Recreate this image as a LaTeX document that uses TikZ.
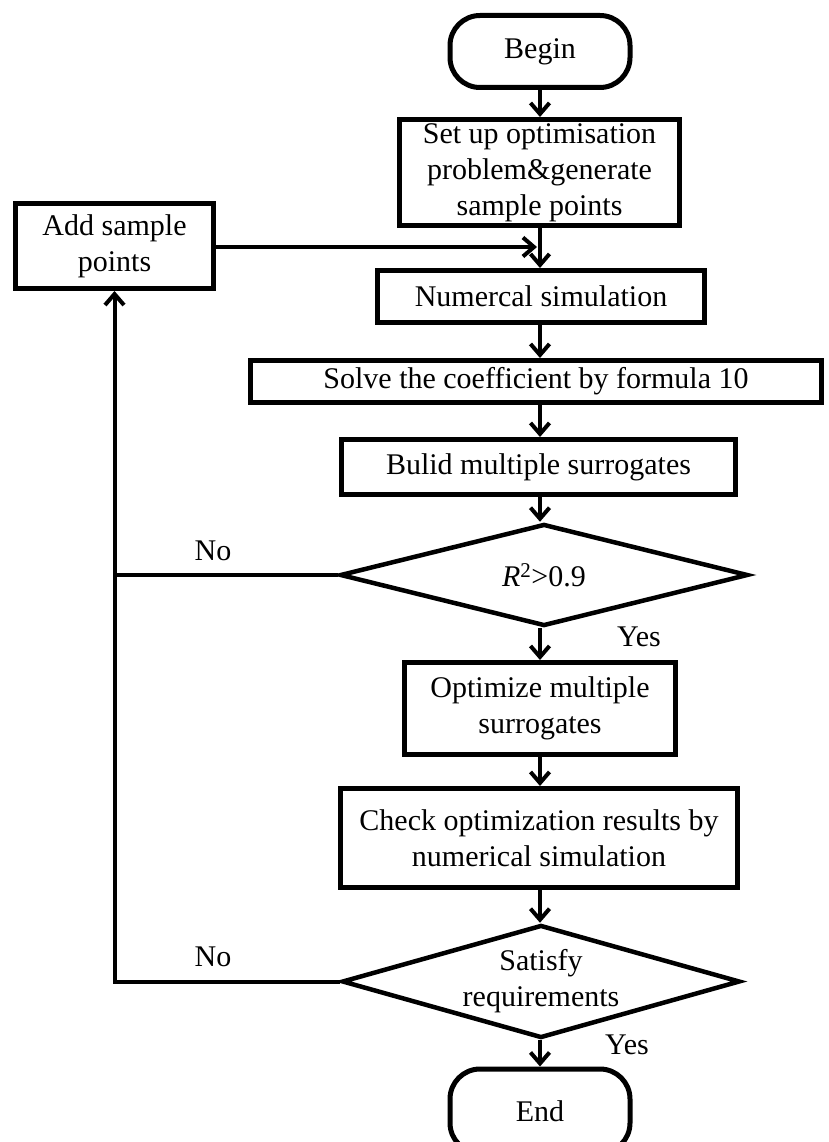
\documentclass[tikz,border=0pt]{standalone}
\usepackage{fontspec}
\setmainfont{Liberation Serif}
\usetikzlibrary{shapes.geometric,arrows.meta}

\begin{document}
\begin{tikzpicture}[x=1pt,y=1pt,
  box/.style={draw,line width=5pt,inner sep=0pt,align=center,
    font=\fontsize{30}{36}\selectfont},
  terminal/.style={box,rounded corners=30pt},
  decision/.style={draw,diamond,line width=4.5pt,inner sep=0pt},
  lbl/.style={font=\fontsize{30}{36}\selectfont,align=center},
  flow/.style={line width=4pt,-{Straight Barb[length=11pt,width=19pt,line width=4pt]}}]
  \clip (0,0) rectangle (828,-1142);
  % main column
  \node[terminal,minimum width=180pt,minimum height=72pt] (begin) at (540,-51.5) {Begin};
  \node[box,minimum width=280pt,minimum height=106pt] (setup) at (539.5,-172.5)
    {Set up optimisation\\problem\&generate\\sample points};
  \node[box,minimum width=327pt,minimum height=52pt] (numsim) at (541,-296.5) {Numercal simulation};
  \node[box,minimum width=571pt,minimum height=42pt] (solve) at (536,-381.5)
    {Solve the coefficient by formula 10};
  \node[box,minimum width=394pt,minimum height=55pt] (build) at (538.5,-467) {Bulid multiple surrogates};
  \node[decision,minimum width=408pt,minimum height=102pt,
    label={[lbl]center:\textit{R}\textsuperscript{2}>0.9}] (fitcheck) at (544,-575) {};
  \node[box,minimum width=271pt,minimum height=92pt] (optim) at (540,-708.5)
    {Optimize multiple\\surrogates};
  \node[box,minimum width=397pt,minimum height=99pt] (verify) at (539,-838)
    {Check optimization results by\\numerical simulation};
  \node[decision,minimum width=398pt,minimum height=113pt,
    label={[lbl]center:Satisfy\\requirements}] (reqcheck) at (541,-981.5) {};
  \node[terminal,minimum width=180pt,minimum height=84pt] (end) at (540,-1111) {End};
  % loop back
  \node[box,minimum width=198pt,minimum height=85pt] (addpts) at (114.5,-246)
    {Add sample\\points};
  \coordinate (join) at (537,-247);

  \draw[flow] (begin) -- (begin |- setup.north);
  \draw[flow] (begin |- setup.south) -- (begin |- numsim.north);
  \draw[flow] (addpts.east |- join) -- (join);
  \draw[flow] (begin |- numsim.south) -- (begin |- solve.north);
  \draw[flow] (begin |- solve.south) -- (begin |- build.north);
  \draw[flow] (begin |- build.south) -- (begin |- fitcheck.north);
  \draw[flow] (begin |- fitcheck.south) -- (begin |- optim.north);
  \draw[flow] (begin |- optim.south) -- (begin |- verify.north);
  \draw[flow] (begin |- verify.south) -- (begin |- reqcheck.north);
  \draw[flow] (begin |- reqcheck.south) -- (end);
  \draw[line width=4pt] (fitcheck.west) -- (fitcheck.west -| addpts.south);
  \draw[flow] (reqcheck.west) -| (addpts.south);

  \node[lbl] (no1) at (213,-551) {No};
  \node[lbl] (yes1) at (639,-637) {Yes};
  \node[lbl] (no2) at (213,-957) {No};
  \node[lbl] (yes2) at (627,-1045) {Yes};
\end{tikzpicture}
\end{document}
